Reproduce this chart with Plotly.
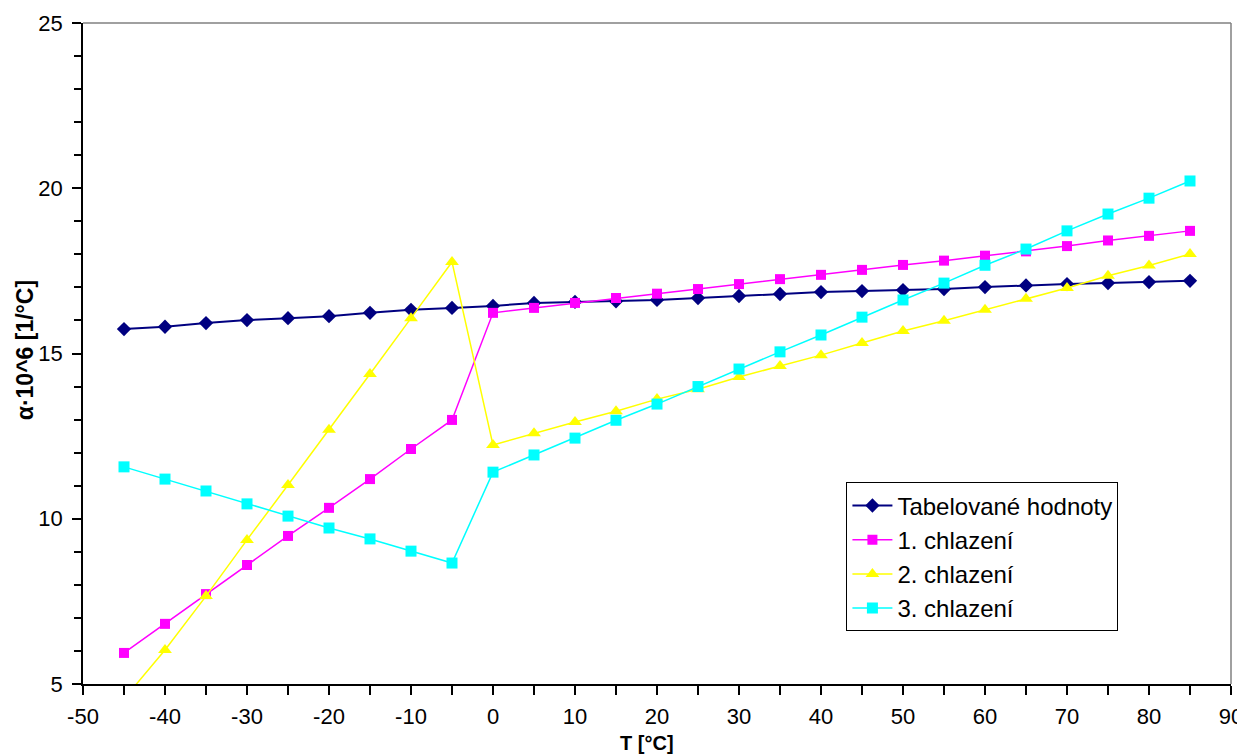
import plotly.graph_objects as go

T = [-45, -40, -35, -30, -25, -20, -15, -10, -5, 0, 5, 10, 15, 20, 25, 30, 35, 40,
     45, 50, 55, 60, 65, 70, 75, 80, 85]

tabelovane = [15.74, 15.81, 15.92, 16.01, 16.07, 16.13, 16.23, 16.32, 16.38, 16.44,
              16.53, 16.56, 16.58, 16.62, 16.68, 16.74, 16.80, 16.86, 16.89, 16.92,
              16.95, 17.01, 17.06, 17.10, 17.13, 17.16, 17.20]
chlazeni1 = [5.94, 6.82, 7.72, 8.60, 9.48, 10.33, 11.20, 12.11, 12.99, 16.23,
             16.38, 16.53, 16.68, 16.81, 16.95, 17.10, 17.25, 17.38, 17.53, 17.68,
             17.81, 17.96, 18.09, 18.25, 18.42, 18.56, 18.71]
chlazeni2 = [4.55, 6.03, 7.66, 9.36, 11.02, 12.69, 14.38, 16.07, 17.77, 12.23,
             12.59, 12.93, 13.25, 13.62, 13.92, 14.29, 14.62, 14.95, 15.32, 15.68,
             15.99, 16.32, 16.66, 16.98, 17.35, 17.66, 18.01]
chlazeni3 = [11.57, 11.20, 10.84, 10.45, 10.08, 9.72, 9.39, 9.02, 8.66, 11.41,
             11.93, 12.44, 12.98, 13.47, 14.00, 14.53, 15.05, 15.56, 16.10, 16.62,
             17.13, 17.67, 18.16, 18.71, 19.22, 19.70, 20.22]

x_tickvals = [-50, -40, -30, -20, -10, 0, 10, 20, 30, 40, 50, 60, 70, 80, 90]
x_ticktext = ["-50", "-40", "-30", "-20", "-10", "0", "10", "20", "30", "40",
              "50", "60", "70", "80", "90"]

names = ["Tabelované hodnoty", "1. chlazení", "2. chlazení", "3. chlazení"]
series = [tabelovane, chlazeni1, chlazeni2, chlazeni3]
colors = ["#000080", "#FF00FF", "#FFFF00", "#00FFFF"]
symbols = ["diamond", "square", "triangle-up", "square"]
msizes = [11, 10, 12, 11]
lwidths = [2, 1.5, 1.5, 1.5]

FONT = "Liberation Sans, Arial, sans-serif"

fig = go.Figure()
for i, (n, s, c, sym, ms, lw) in enumerate(zip(names, series, colors, symbols, msizes, lwidths)):
    fig.add_trace(go.Scatter(x=T, y=s, name=n, mode="lines+markers",
                             legendgroup="g%d" % i,
                             line=dict(color=c, width=lw),
                             marker=dict(symbol=sym, size=ms, color=c,
                                         line=dict(width=0))))

# the page adds an 8px body margin, so the figure is sized/offset to compensate
fig.update_layout(
    width=1237, height=748,
    margin=dict(l=75, r=14, t=15, b=72),
    paper_bgcolor="white", plot_bgcolor="white",
    font=dict(family=FONT, size=22, color="black"),
    showlegend=True,
    legend=dict(x=0.665, y=0.305, xanchor="left", yanchor="top",
                bgcolor="white", bordercolor="black", borderwidth=1,
                font=dict(size=24), traceorder="grouped", tracegroupgap=0,
                itemwidth=40),
    xaxis=dict(range=[-50, 90], tickmode="array", tickvals=x_tickvals,
               ticktext=x_ticktext, showgrid=False, zeroline=False,
               showline=True, linecolor="black", linewidth=1.5, automargin=False,
               ticks="outside", ticklen=9, tickcolor="black", tickwidth=1.5,
               ticklabelstandoff=3,
               minor=dict(tickmode="linear", dtick=5, tick0=-50, ticks="outside",
                          ticklen=9, tickcolor="black", tickwidth=1.5),
               tickfont=dict(size=22)),
    yaxis=dict(range=[5, 25], dtick=5, tick0=5, showgrid=False, zeroline=False,
               showline=True, linecolor="black", linewidth=1.5, automargin=False,
               ticks="outside", ticklen=9, tickcolor="black", tickwidth=1.5,
               ticklabelstandoff=5,
               minor=dict(dtick=1, ticks="outside", ticklen=7,
                          tickcolor="black", tickwidth=1.5),
               tickfont=dict(size=22)),
    shapes=[
        dict(type="line", xref="paper", yref="paper", x0=0, x1=1, y0=1, y1=1,
             line=dict(color="#808080", width=1.5)),
        dict(type="line", xref="paper", yref="paper", x0=1, x1=1, y0=0, y1=1,
             line=dict(color="#808080", width=1.5)),
    ],
    annotations=[
        dict(text="<b>T [°C]</b>", xref="paper", yref="paper", x=0.491, y=-0.089,
             xanchor="center", yanchor="middle", showarrow=False,
             font=dict(family=FONT, size=20)),
        dict(text="<b>α·10^6 [1/°C]</b>", xref="paper", yref="paper", x=-0.0505,
             y=0.505, xanchor="center", yanchor="middle", textangle=-90,
             showarrow=False, font=dict(family=FONT, size=23)),
    ],
)

fig.write_html("out.html")
